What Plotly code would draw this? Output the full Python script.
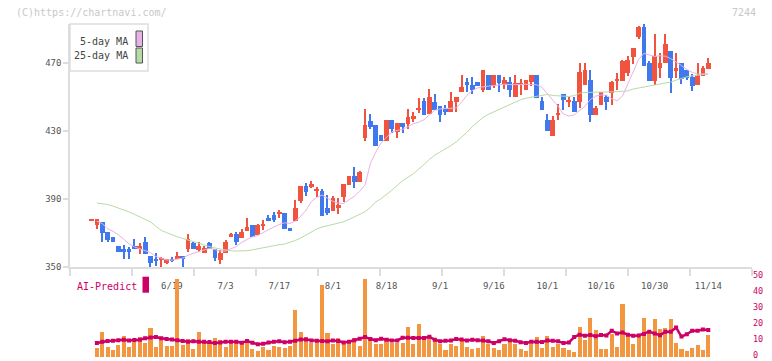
import plotly.graph_objects as go

W, H = 772, 361

# ---- data ----
tick_idx = [15, 25, 35, 45, 55, 65, 75, 85, 95, 105, 115]
tick_text = ["6/19", "7/3", "7/17", "8/1", "8/18", "9/1", "9/16", "10/1", "10/16", "10/30", "11/14"]

opens = [377.6, 374.9, 376.3, 370.4, 367.6, 362.4, 360.4, 360.4, 362.4, 360.4,
         364.5, 356.5, 354.9, 354.7, 352.2, 354.9, 354.9, 356.5, 360.6, 363.9,
         360.0, 358.4, 363.9, 360.6, 354.3, 358.0, 367.5, 369.4, 367.3, 371.4,
         374.7, 368.8, 374.6, 378.6, 380.6, 381.5, 381.8, 372.7, 377.2, 389.0,
         397.6, 397.2, 394.8, 394.7, 384.5, 383.1, 384.9, 391.4, 398.2, 403.5,
         400.2, 426.1, 435.9, 433.5, 427.6, 424.1, 436.5, 429.2, 434.9, 434.1,
         437.1, 442.9, 447.6, 440.0, 446.9, 444.7, 442.9, 441.4, 446.9, 452.7,
         459.0, 457.1, 459.0, 454.1, 463.0, 456.7, 463.0, 457.1, 459.0, 450.2,
         457.4, 454.1, 459.0, 463.0, 447.6, 436.5, 427.3, 439.7, 451.6, 447.2,
         447.6, 447.3, 457.1, 460.0, 439.4, 445.3, 449.8, 452.2, 459.9, 459.4,
         464.0, 473.7, 485.5, 491.0, 470.2, 459.4, 467.3, 470.2, 477.1, 465.5,
         470.2, 465.9, 461.6, 457.1, 462.4, 466.3]
highs = [377.8, 378.4, 376.5, 370.6, 367.8, 362.6, 362.9, 362.0, 366.3, 363.9,
         367.8, 356.5, 358.0, 356.1, 354.9, 356.1, 359.0, 356.5, 369.6, 364.5,
         364.5, 362.4, 364.9, 360.6, 360.0, 365.9, 370.2, 370.8, 372.2, 378.6,
         375.0, 375.5, 377.6, 380.6, 382.5, 383.5, 381.8, 372.7, 389.4, 397.6,
         399.6, 400.6, 397.2, 395.7, 392.4, 391.8, 390.4, 398.8, 403.5, 409.0,
         406.7, 442.8, 440.0, 433.5, 427.6, 436.5, 436.5, 434.9, 434.9, 443.2,
         441.0, 449.2, 449.6, 454.7, 451.6, 444.7, 445.3, 453.1, 450.0, 462.9,
         461.0, 461.6, 459.0, 465.9, 463.0, 463.0, 463.0, 461.8, 462.0, 463.0,
         460.4, 460.0, 463.0, 463.0, 450.0, 440.0, 439.0, 445.7, 451.6, 449.8,
         450.2, 470.2, 470.2, 465.9, 444.5, 452.9, 451.4, 459.7, 464.3, 472.0,
         474.1, 478.8, 491.8, 492.9, 471.0, 487.1, 475.7, 487.1, 477.1, 476.1,
         470.2, 465.9, 463.6, 470.2, 468.4, 473.1]
lows = [377.4, 372.2, 364.9, 364.5, 364.5, 359.0, 354.7, 354.7, 360.6, 357.6,
        357.4, 349.2, 350.6, 349.0, 352.0, 353.0, 354.9, 350.2, 359.0, 360.4,
        359.0, 358.0, 360.8, 353.5, 351.8, 358.0, 367.5, 362.9, 367.3, 371.0,
        367.5, 368.8, 371.8, 377.0, 376.7, 379.0, 372.1, 371.6, 377.2, 387.5,
        391.8, 396.7, 391.4, 380.2, 380.6, 383.1, 381.2, 388.4, 398.2, 396.3,
        400.2, 424.3, 431.2, 421.4, 424.3, 424.1, 428.6, 426.1, 428.6, 431.2,
        435.5, 440.4, 439.4, 440.0, 442.4, 435.5, 439.4, 441.4, 441.4, 452.7,
        452.7, 451.8, 456.7, 452.7, 454.1, 455.1, 452.7, 454.5, 450.2, 450.2,
        451.2, 454.1, 456.7, 449.6, 442.4, 430.0, 427.3, 436.5, 442.4, 444.3,
        441.4, 443.3, 457.1, 435.5, 439.4, 445.3, 442.4, 445.3, 454.1, 459.4,
        462.4, 469.4, 484.0, 468.4, 459.4, 457.1, 461.0, 470.2, 452.5, 461.0,
        457.7, 460.0, 453.5, 457.1, 462.4, 466.3]
closes = [377.7, 378.2, 370.2, 365.9, 364.7, 359.0, 359.0, 359.0, 360.8, 362.4,
          357.4, 352.2, 353.3, 354.8, 354.7, 353.3, 356.5, 354.9, 366.3, 360.4,
          362.4, 361.4, 360.8, 355.1, 358.2, 364.7, 369.4, 364.7, 370.6, 373.4,
          367.8, 374.7, 374.8, 377.2, 377.6, 381.7, 372.1, 371.6, 384.5, 397.6,
          394.3, 398.6, 395.0, 380.2, 381.6, 390.4, 386.5, 398.8, 403.5, 400.2,
          406.1, 433.5, 432.5, 421.4, 424.3, 436.5, 431.2, 434.9, 432.5, 438.0,
          439.0, 443.1, 439.4, 450.0, 442.4, 439.4, 441.4, 447.6, 450.0, 455.9,
          457.1, 454.3, 456.7, 465.9, 454.1, 463.0, 458.0, 460.0, 454.1, 458.0,
          457.6, 460.0, 463.0, 449.6, 442.4, 430.0, 436.5, 439.9, 448.2, 447.4,
          441.4, 464.9, 465.9, 439.4, 443.7, 452.9, 447.2, 458.8, 460.1, 471.0,
          471.8, 478.8, 491.0, 468.4, 459.4, 474.1, 470.2, 481.2, 461.4, 467.3,
          460.4, 461.0, 456.6, 462.9, 467.3, 470.2]

ma5 = [None, 377.0, 375.5, 372.5, 371.0, 369.0, 366.0, 363.6, 361.8, 360.6,
       359.6, 358.5, 356.2, 355.0, 354.2, 354.1, 354.6, 355.2, 357.0, 358.0,
       359.0, 360.0, 361.0, 360.3, 359.4, 359.4, 360.5, 362.0, 364.5, 366.0,
       367.8, 368.5, 370.5, 372.0, 373.5, 375.0, 376.0, 375.6, 377.0, 379.8,
       383.5, 388.5, 391.0, 392.3, 390.5, 388.6, 387.6, 387.3, 389.5, 391.6,
       394.5, 398.2, 411.0, 417.5, 423.0, 426.5, 429.5, 430.3, 431.0, 432.5,
       434.3, 435.2, 436.6, 439.5, 442.2, 443.0, 443.3, 443.3, 443.5, 447.0,
       451.0, 453.8, 455.3, 456.0, 456.3, 456.7, 457.2, 457.5, 457.3, 457.1,
       457.3, 457.5, 457.5, 457.2, 455.6, 452.0, 448.0, 444.5, 440.0, 438.8,
       439.5, 441.8, 444.5, 448.5, 450.5, 451.2, 451.0, 449.0, 447.8, 450.5,
       457.5, 465.5, 472.0, 475.7, 474.8, 473.8, 474.3, 474.0, 472.6, 470.8,
       468.5, 466.2, 464.5, 463.5, 463.4, 463.6]
ma25 = [None, 387.6, 387.2, 386.8, 385.8, 384.8, 383.5, 382.4, 381.0, 379.6,
        378.2, 376.5, 374.0, 371.6, 370.2, 368.9, 367.8, 366.8, 366.0, 365.0,
        364.0, 362.9, 361.9, 361.2, 360.6, 360.0, 359.5, 359.4, 359.4, 359.6,
        360.1, 360.7, 361.6, 362.3, 362.7, 363.1, 363.5, 364.4, 365.6, 367.0,
        368.8, 370.7, 372.4, 373.5, 374.3, 374.8, 375.7, 376.6, 378.0, 379.5,
        381.0, 382.5, 385.0, 388.3, 390.2, 392.5, 395.2, 398.0, 400.8, 402.8,
        404.8, 407.5, 410.7, 413.3, 415.8, 417.5, 419.3, 421.4, 423.6, 426.2,
        429.2, 432.6, 435.5, 438.0, 439.8, 441.3, 442.8, 444.3, 445.8, 447.3,
        448.4, 449.3, 449.9, 450.5, 451.2, 451.5, 450.9, 450.6, 450.3, 450.3,
        450.8, 452.2, 452.7, 452.7, 452.8, 452.9, 453.0, 453.0, 453.1, 453.3,
        453.6, 454.7, 455.3, 455.9, 456.4, 457.0, 457.5, 457.9, 458.8, 459.9,
        460.9, 461.9, 462.4, 462.9, 463.3, 463.6]

ai_bars = [None, 5.7, 15.7, 6.4, 4.4, 7.7, 13.3, 6.4, 9.6, 12.6,
           8.9, 18.4, 6.4, 11.9, 6.9, 6.9, 49.5, 7.7, 11.9, 5.0,
           15.7, 9.6, 9.6, 12.0, 11.2, 6.4, 10.2, 9.5, 9.6, 9.2,
           5.0, 4.0, 6.5, 4.6, 7.0, 6.5, 6.0, 7.0, 29.7, 15.8,
           12.6, 9.2, 11.3, 45.3, 15.1, 8.2, 12.4, 8.2, 8.8, 12.2,
           6.9, 49.1, 12.4, 8.2, 8.2, 12.4, 9.2, 9.2, 9.2, 19.1,
           8.2, 20.8, 12.4, 12.4, 10.3, 8.6, 4.4, 8.6, 7.0, 10.9,
           6.5, 5.2, 5.7, 13.5, 8.6, 5.7, 4.4, 8.2, 10.9, 8.2,
           5.2, 4.0, 8.4, 13.0, 5.7, 13.5, 6.5, 8.2, 5.7, 4.4,
           3.4, 18.9, 10.7, 24.6, 17.0, 5.0, 5.0, 14.5, 6.3, 33.9,
           15.5, 8.2, 13.4, 24.6, 15.5, 24.0, 17.6, 18.8, 24.0, 8.8,
           5.0, 3.8, 5.7, 7.6, 4.4, 13.9]
ai_line = [None, 9.3, 10.0, 10.5, 10.7, 11.0, 11.3, 10.8, 11.2, 11.3,
           12.2, 12.7, 13.0, 12.3, 11.8, 11.5, 11.0, 10.5, 10.1, 10.3,
           10.1, 10.1, 9.9, 9.3, 9.6, 10.1, 10.1, 10.1, 9.4, 10.5,
           9.4, 8.5, 8.8, 9.6, 10.0, 10.3, 9.8, 10.0, 10.6, 11.4,
           11.5, 10.9, 10.6, 10.5, 10.4, 10.8, 10.5, 9.6, 10.0, 11.0,
           12.0, 13.0, 11.8, 11.0, 11.9, 11.3, 10.9, 10.9, 12.5, 12.6,
           12.4, 12.4, 12.4, 13.2, 11.3, 10.4, 10.6, 10.9, 11.8, 11.5,
           10.9, 11.3, 11.0, 10.9, 10.3, 9.3, 10.3, 11.6, 11.0, 10.7,
           9.8, 9.2, 10.0, 10.0, 9.9, 10.8, 10.6, 10.3, 9.2, 9.5,
           13.0, 14.5, 13.8, 14.3, 13.5, 14.3, 14.0, 17.0, 15.2, 15.8,
           14.5, 13.8, 14.0, 15.0, 16.4, 15.2, 14.2, 16.3, 16.4, 19.0,
           13.3, 14.8, 17.0, 17.0, 17.8, 17.4]

idx = list(range(len(opens)))

# ---- styling ----
FONT = "DejaVu Sans Mono"
RED = "#f2533f"
BLUE = "#4079ee"
PINK = "#e8b2e8"
GREEN = "#b7dba6"
MAG = "#cc0066"
ORANGE = "#f2973f"
AXIS = "#dddddd"

def px(x):
    return x / W

def py(y):
    return 1 - y / H

up = [c >= o for o, c in zip(opens, closes)]
colors = [RED if u else BLUE for u in up]
body_base = [min(o, c) for o, c in zip(opens, closes)]
body_h = [max(abs(c - o), 0.6) for o, c in zip(opens, closes)]
wick_h = [h - l for h, l in zip(highs, lows)]

fig = go.Figure()

fig.add_trace(go.Scatter(x=idx, y=ma25, mode="lines", line=dict(color=GREEN, width=1),
                         hoverinfo="skip", xaxis="x", yaxis="y"))
fig.add_trace(go.Scatter(x=idx, y=ma5, mode="lines", line=dict(color=PINK, width=1),
                         hoverinfo="skip", xaxis="x", yaxis="y"))
fig.add_trace(go.Bar(x=idx, y=wick_h, base=lows, width=0.2, marker=dict(color=colors, line=dict(width=0)),
                     xaxis="x", yaxis="y"))
fig.add_trace(go.Bar(x=idx, y=body_h, base=body_base, width=0.88, marker=dict(color=colors, line=dict(width=0)),
                     xaxis="x", yaxis="y"))

fig.add_trace(go.Bar(x=idx, y=ai_bars, width=0.76, marker=dict(color=ORANGE, line=dict(width=0)),
                     xaxis="x2", yaxis="y2"))
fig.add_trace(go.Scatter(x=idx, y=ai_line, mode="lines+markers",
                         line=dict(color=MAG, width=2.5),
                         marker=dict(symbol="square", size=4, color=MAG),
                         xaxis="x2", yaxis="y2"))

xr = [-4.01, 123.15]
minor_vals = [xr[0] + k * (xr[1] - xr[0]) / 11 for k in range(12)]
y_top = 350 + (267 - 24) / 1.7

fig.update_layout(
    width=W, height=H,
    margin=dict(l=0, r=0, t=0, b=0),
    paper_bgcolor="white", plot_bgcolor="white",
    showlegend=False, barmode="overlay", bargap=0,
    font=dict(family=FONT, size=9, color="#555555"),
    xaxis=dict(domain=[px(70), px(752)], range=xr, anchor="y",
               tickmode="array", tickvals=tick_idx, ticktext=tick_text,
               ticks="outside", ticklen=9, tickcolor="rgba(0,0,0,0)",
               tickfont=dict(family=FONT, size=9, color="#555555"),
               showline=True, linecolor=AXIS, linewidth=1.5,
               showgrid=False, zeroline=False, automargin=False,
               minor=dict(tickmode="array", tickvals=minor_vals, ticks="outside",
                          ticklen=7, tickcolor=AXIS, tickwidth=1.5, showgrid=False)),
    yaxis=dict(domain=[py(267), py(24)], range=[350, y_top], anchor="x",
               tickmode="array", tickvals=[350, 390, 430, 470],
               ticks="outside", ticklen=5, tickcolor=AXIS, tickwidth=1.5,
               tickfont=dict(family=FONT, size=9, color="#555555"),
               showline=True, linecolor=AXIS, linewidth=1.5,
               showgrid=False, zeroline=False, automargin=False),
    xaxis2=dict(domain=[px(70), px(752)], range=xr, anchor="y2", visible=False),
    yaxis2=dict(domain=[py(357.7), py(278.3)], range=[0, 50], anchor="x2", side="right",
                tickmode="array", tickvals=[0, 10, 20, 30, 40, 50], ticks="",
                ticklabeloverflow="allow", ticklabelshift=-3,
                tickfont=dict(family=FONT, size=8.5, color=MAG),
                showline=False, showgrid=False, zeroline=False, automargin=False),
)

ann = [
    dict(text="(C)https://chartnavi.com/", x=px(14), y=py(12.5), xanchor="left", yanchor="middle",
         font=dict(family=FONT, size=10, color="#c8c8c8")),
    dict(text="7244", x=px(758), y=py(12.5), xanchor="right", yanchor="middle",
         font=dict(family=FONT, size=10, color="#c8c8c8")),
    dict(text="5-day MA", x=px(130), y=py(41), xanchor="right", yanchor="middle",
         font=dict(family=FONT, size=10, color="#444444")),
    dict(text="25-day MA", x=px(130), y=py(56), xanchor="right", yanchor="middle",
         font=dict(family=FONT, size=10, color="#444444")),
    dict(text="AI-Predict", x=px(75), y=py(286), xanchor="left", yanchor="middle",
         font=dict(family=FONT, size=10, color=MAG)),
]
for a in ann:
    a.update(xref="paper", yref="paper", showarrow=False)
fig.update_layout(annotations=ann)

shapes = [
    dict(type="rect", x0=px(70), x1=px(148), y0=py(71), y1=py(24),
         line=dict(color=AXIS, width=1.5), fillcolor="rgba(255,255,255,0.9)", layer="above"),
    dict(type="rect", x0=px(136), x1=px(142.5), y0=py(46.5), y1=py(31),
         line=dict(color="#555555", width=1), fillcolor=PINK, layer="above"),
    dict(type="rect", x0=px(136), x1=px(142.5), y0=py(63), y1=py(48),
         line=dict(color="#555555", width=1), fillcolor=GREEN, layer="above"),
    dict(type="rect", x0=px(142.5), x1=px(149), y0=py(292.7), y1=py(276.7),
         line=dict(width=0), fillcolor=MAG, layer="above"),
]
for s in shapes:
    s.update(xref="paper", yref="paper")
fig.update_layout(shapes=shapes)

fig.write_html("out.html", config={"displayModeBar": False},
               post_script="document.body.style.margin='0px';document.body.style.overflow='hidden';")
